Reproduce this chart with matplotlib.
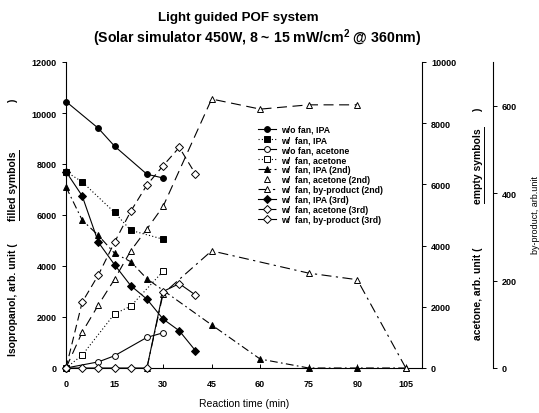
import matplotlib
matplotlib.use('Agg')
import matplotlib.pyplot as plt
from matplotlib.lines import Line2D

plt.rcParams['font.family'] = ['Liberation Sans', 'DejaVu Sans']
plt.rcParams['mathtext.fontset'] = 'custom'
plt.rcParams['mathtext.rm'] = 'Liberation Sans:bold'
plt.rcParams['mathtext.bf'] = 'Liberation Sans:bold'

# ---------------- data ----------------
time_ticks = [0, 15, 30, 45, 60, 75, 90, 105]

t_wo_ipa = [0, 10, 15, 25, 30]
wo_fan_ipa = [10450, 9400, 8700, 7600, 7450]

t_w_ipa = [0, 5, 15, 20, 30]
w_fan_ipa = [7700, 7300, 6100, 5400, 5050]

t_wo_ace = [0, 10, 15, 25, 30]
wo_fan_acetone = [0, 200, 400, 1000, 1150]

t_w_ace = [0, 5, 15, 20, 30]
w_fan_acetone = [0, 420, 1770, 2020, 3160]

t_ipa2 = [0, 5, 10, 15, 20, 25, 45, 60, 75, 90, 105]
ipa_2nd = [7100, 5800, 5200, 4500, 4170, 3500, 1690, 350, 0, 0, 0]

t_ace2 = [0, 5, 10, 15, 20, 25, 30, 45, 60, 75, 90]
acetone_2nd = [0, 1170, 2060, 2900, 3830, 4540, 5280, 8790, 8460, 8600, 8600]

t_by2 = [25, 30, 45, 75, 90, 105]
byproduct_2nd = [0, 170, 268, 217, 202, 0]

t_3rd = [0, 5, 10, 15, 20, 25, 30, 35, 40]
ipa_3rd = [7700, 6750, 4930, 4050, 3230, 2700, 1920, 1460, 680]
acetone_3rd = [0, 2150, 3040, 4110, 5120, 5980, 6610, 7210, 6340]
byproduct_3rd = [0, 0, 0, 0, 0, 0, 175, 193, 167]

labels = ["w/o fan, IPA", "w/  fan, IPA", "w/o fan, acetone", "w/  fan, acetone",
          "w/  fan, IPA (2nd)", "w/  fan, acetone (2nd)", "w/  fan, by-product (2nd)",
          "w/  fan, IPA (3rd)", "w/  fan, acetone (3rd)", "w/  fan, by-product (3rd)"]

# ---------------- figure ----------------
W, H = 539, 414
fig = plt.figure(figsize=(W / 100, H / 100), dpi=100)
def fx(px): return px / W
def fy(py): return 1 - py / H

ax1 = fig.add_axes([fx(66), fy(369), (422 - 66) / W, (369 - 63) / H])
ax2 = ax1.twinx()
ax3 = ax1.twinx()
ax3.spines['right'].set_position(('axes', (493 - 66) / 356))

ax1.set_xlim(0, 110)
ax1.set_ylim(0, 12000)
ax2.set_ylim(0, 10000)
ax3.set_ylim(0, 700)

for ax in (ax1, ax2, ax3):
    ax.spines['top'].set_visible(False)
    for s in ax.spines.values():
        s.set_linewidth(0.8)
ax1.spines['right'].set_visible(False)
ax2.spines['left'].set_visible(False)
ax3.spines['left'].set_visible(False)
ax3.spines['bottom'].set_visible(False)
ax2.spines['bottom'].set_visible(False)

ax1.set_xticks(time_ticks)
ax1.set_yticks(range(0, 12001, 2000))
ax2.set_yticks(range(0, 10001, 2000))
ax3.set_yticks([0, 200, 400, 600])
ax1.tick_params(axis='x', direction='in', length=3, width=0.7, labelsize=6.5, pad=8)
ax1.tick_params(axis='y', direction='out', length=3, width=0.7, labelsize=6.5)
ax2.tick_params(axis='y', direction='out', length=3, width=0.7, labelsize=6.5)
ax3.tick_params(axis='y', direction='out', length=3, width=0.7, labelsize=6.5)
for ax in (ax1, ax2, ax3):
    for lab in ax.get_xticklabels() + ax.get_yticklabels():
        lab.set_fontweight('bold')

lw = 0.8
ms = 4.2
common = dict(color='k', lw=lw, ms=ms, mec='k', mew=0.7, clip_on=False)

h1, = ax1.plot(t_wo_ipa, wo_fan_ipa, ls='-', marker='o', mfc='k', **common)
h2, = ax1.plot(t_w_ipa, w_fan_ipa, ls=(0, (1, 2)), marker='s', mfc='k', **common)
h5, = ax1.plot(t_ipa2, ipa_2nd, ls=(0, (7, 3, 1.5, 3)), marker='^', mfc='k', **common)
h8, = ax1.plot(t_3rd, ipa_3rd, ls='-', marker='D', mfc='k', **dict(common, ms=3.6))

h3, = ax2.plot(t_wo_ace, wo_fan_acetone, ls='-', marker='o', mfc='white', **common)
h4, = ax2.plot(t_w_ace, w_fan_acetone, ls=(0, (1, 2)), marker='s', mfc='white', **common)
ax2.plot(t_ace2, acetone_2nd, ls=(0, (9, 5)), color='k', lw=lw)
h6, = ax2.plot(t_ace2, acetone_2nd, ls='none', marker='^', mfc='white', **common)
h9, = ax2.plot(t_3rd, acetone_3rd, ls=(0, (7, 4)), marker='D', mfc='white', **dict(common, ms=3.6))

h7, = ax3.plot(t_by2, byproduct_2nd, ls=(0, (9, 4, 2, 4)), marker='^', mfc='white', **common)
h10, = ax3.plot(t_3rd, byproduct_3rd, ls='-', marker='D', mfc='white', **dict(common, ms=3.6))

handles = [h1, h2, h3, h4, h5, h6, h7, h8, h9, h10]
fig.legend(handles, labels, loc='upper left', bbox_to_anchor=(fx(258), fy(126)),
           frameon=False, prop={'size': 6.3, 'weight': 'bold'}, handlelength=2.1,
           handletextpad=0.5, labelspacing=0.12, borderpad=0, borderaxespad=0)

# ---------------- texts ----------------
fig.text(fx(238), fy(18), "Light guided POF system", ha='center', va='center',
         fontsize=9.6, fontweight='bold')
fig.text(fx(257), fy(38), r"(Solar simulator 450W, 8 ~ 15 mW/cm$^{2}$ @ 360nm)",
         ha='center', va='center', fontsize=10.2, fontweight='bold')
fig.text(fx(244), fy(404), "Reaction time (min)", ha='center', va='center', fontsize=7.5)

lab_kw = dict(rotation=90, ha='center', va='center', fontsize=7.5, fontweight='bold')
fig.text(fx(13), fy(300), "Isopropanol, arb. unit (", **lab_kw)
u1 = fig.text(fx(13), fy(186), "filled symbols", **lab_kw)
fig.text(fx(13), fy(101), ")", **lab_kw)

fig.text(fx(478), fy(294), "acetone, arb. unit (", **lab_kw)
u2 = fig.text(fx(478), fy(166), "empty symbols", **lab_kw)
fig.text(fx(478), fy(110), ")", **lab_kw)

fig.text(fx(535), fy(215), "by-product, arb.unit", rotation=90, ha='center', va='center',
         fontsize=6.5)

# underline rotated texts
fig.canvas.draw()
r = fig.canvas.get_renderer()
for t in (u1, u2):
    bb = t.get_window_extent(r)
    x = bb.x1 + 0.8
    fig.add_artist(Line2D([x / W, x / W], [bb.y0 / H, bb.y1 / H], color='k', lw=0.7,
                          transform=fig.transFigure))

fig.savefig('out.png', dpi=100, facecolor='white')
